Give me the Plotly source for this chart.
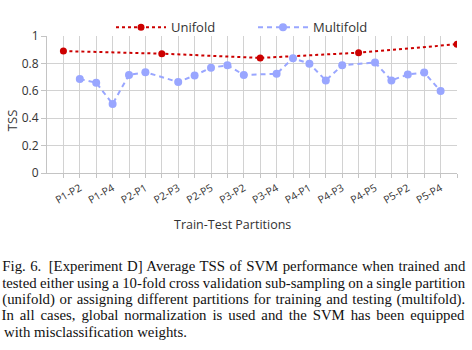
import json
import plotly.graph_objects as go

categories = ["P1-P1", "P1-P2", "P1-P3", "P1-P4", "P1-P5",
              "P2-P1", "P2-P2", "P2-P3", "P2-P4", "P2-P5",
              "P3-P1", "P3-P2", "P3-P3", "P3-P4", "P3-P5",
              "P4-P1", "P4-P2", "P4-P3", "P4-P4", "P4-P5",
              "P5-P1", "P5-P2", "P5-P3", "P5-P4", "P5-P5"]
tick_labels = ["", "P1-P2", "", "P1-P4", "",
               "P2-P1", "", "P2-P3", "", "P2-P5",
               "", "P3-P2", "", "P3-P4", "",
               "P4-P1", "", "P4-P3", "", "P4-P5",
               "", "P5-P2", "", "P5-P4", ""]
unifold = [0.890, None, None, None, None,
           None, 0.871, None, None, None,
           None, None, 0.840, None, None,
           None, None, None, 0.878, None,
           None, None, None, None, 0.940]
multifold = [None, 0.686, 0.659, 0.504, 0.716,
             0.736, None, 0.664, 0.712, 0.769,
             0.786, 0.716, None, 0.724, 0.838,
             0.798, 0.676, 0.786, None, 0.807,
             0.676, 0.719, 0.733, 0.598, None]
y_ticks = [0, 0.2, 0.4, 0.6, 0.8, 1]
caption_lines = [
    "Fig. 6.\u2002[Experiment D] Average TSS of SVM performance when trained and",
    "tested either using a 10-fold cross validation sub-sampling on a single partition",
    "(unifold) or assigning different partitions for training and testing (multifold).",
    "In all cases, global normalization is used and the SVM has been equipped",
    "with misclassification weights.",
]

W, H = 472, 350
L, R, T, B = 47, 15, 33, 177
PW, PH = W - L - R, H - T - B


def px2x(px):
    return (px - L) / PW


def px2y(py):
    return (H - B - py) / PH


fig = go.Figure()
fig.add_trace(go.Scatter(
    x=categories, y=unifold, name="Unifold", mode="lines+markers",
    connectgaps=True,
    line=dict(color="#cc0000", width=2, dash="dot"),
    marker=dict(color="#cc0000", size=7),
))
fig.add_trace(go.Scatter(
    x=categories, y=multifold, name="Multifold", mode="lines+markers",
    connectgaps=True,
    line=dict(color="#99a6ff", width=2, dash="5px,4px"),
    marker=dict(color="#99a6ff", size=8),
))

axis_font = dict(family="Open Sans", size=12, color="#333333")

fig.update_layout(
    width=W, height=H,
    margin=dict(l=L, r=R, t=T, b=B, pad=0),
    paper_bgcolor="white", plot_bgcolor="white",
    font=axis_font,
    showlegend=True,
    legend=dict(orientation="h", x=px2x(111), xanchor="left",
                y=px2y(24), yanchor="middle",
                font=dict(family="Open Sans", size=13, color="#333333"),
                bgcolor="rgba(0,0,0,0)", itemwidth=50, tracegroupgap=0,
                entrywidth=77, entrywidthmode="pixels"),
    xaxis=dict(
        type="category", categoryorder="array", categoryarray=categories,
        range=[-1, 24], tickmode="array", tickvals=categories, ticktext=tick_labels,
        tickangle=-30, tickfont=dict(family="Open Sans", size=10.5, color="#333333"),
        showgrid=True, gridcolor="#d2d2d2", gridwidth=1,
        ticks="outside", ticklen=4, tickcolor="#c4c4c4",
        showline=True, linecolor="#c4c4c4", linewidth=1,
        zeroline=False, fixedrange=True,
    ),
    yaxis=dict(
        range=[0, 1], tickmode="array", tickvals=y_ticks,
        tickfont=dict(family="Open Sans", size=12, color="#333333"),
        showgrid=True, gridcolor="#d2d2d2", gridwidth=1,
        ticks="outside", ticklen=5, tickcolor="#c4c4c4",
        showline=True, linecolor="#c4c4c4", linewidth=1,
        zeroline=False, fixedrange=True,
    ),
)

annotations = [
    dict(text="Train-Test Partitions", xref="paper", yref="paper",
         x=px2x(232.5), y=px2y(226), xanchor="center", yanchor="middle",
         showarrow=False, font=dict(family="Open Sans", size=12.5, color="#333333")),
    dict(text="TSS", xref="paper", yref="paper", textangle=-90,
         x=px2x(12), y=px2y(120), xanchor="center", yanchor="middle",
         showarrow=False, font=dict(family="Open Sans", size=13, color="#333333")),
]
line_y = [268, 285, 302, 318.5, 335]
for i, (txt, py) in enumerate(zip(caption_lines, line_y)):
    last = i == len(caption_lines) - 1
    annotations.append(dict(
        text=txt, xref="paper", yref="paper",
        x=px2x(2) if last else px2x(233.5), y=px2y(py),
        xanchor="left" if last else "center", yanchor="middle",
        showarrow=False,
        font=dict(family="Liberation Serif", size=14.8, color="#111111"),
    ))
fig.update_layout(annotations=annotations)

justify = json.dumps([l for l in caption_lines[:-1]])
post = """
var gd = document.getElementById('{plot_id}');
var lines = %s;
var target = 463;
gd.querySelectorAll('text.annotation-text').forEach(function(t){
  var s = t.textContent;
  if (lines.indexOf(s) < 0) return;
  var n = (s.match(/ /g) || []).length;
  t.style.wordSpacing = '0px';
  var len = t.getComputedTextLength();
  if (n > 0) t.style.wordSpacing = ((target - len) / n) + 'px';
});
""" % justify

fig.write_html("out.html", post_script=post, config={"displayModeBar": False})
